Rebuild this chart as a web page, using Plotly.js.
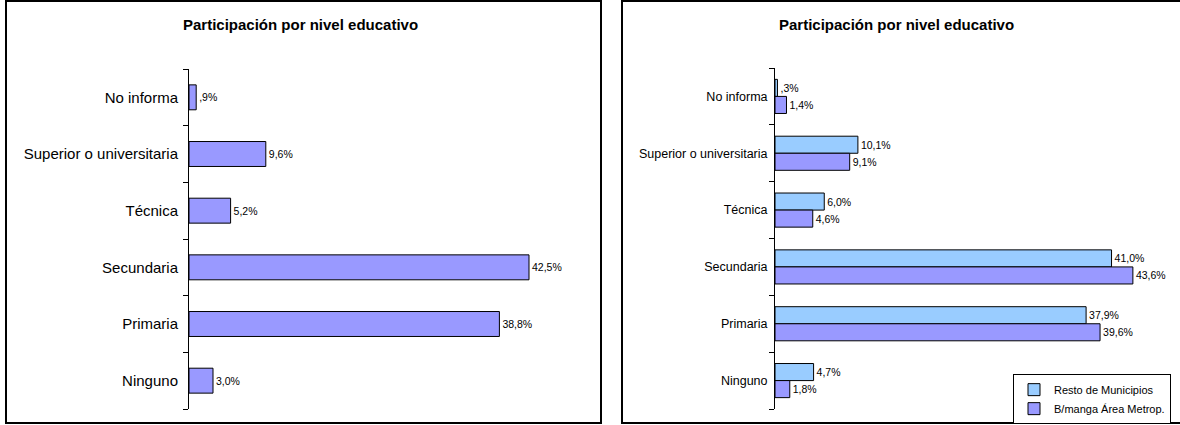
<!DOCTYPE html>
<html><head><meta charset="utf-8">
<script src="https://cdn.plot.ly/plotly-3.0.1.min.js"></script>
<style>html,body{margin:0;padding:0;background:#fff}#chart{width:1180px;height:425px}</style>
</head><body><div id="chart"></div>
<script>
const categories = ['Ninguno', 'Primaria', 'Secundaria', 'Técnica', 'Superior o universitaria', 'No informa'];
const totalValues = [3.0, 38.8, 42.5, 5.2, 9.6, 0.9];
const restoValues = [4.7, 37.9, 41.0, 6.0, 10.1, 0.3];
const bmangaValues = [1.8, 39.6, 43.6, 4.6, 9.1, 1.4];
const seriesNames = ['Resto de Municipios', 'B/manga Área Metrop.'];
const chartTitle = 'Participación por nivel educativo';

function fmt(v) {
  let s = v.toFixed(1).replace('.', ',');
  if (s.startsWith('0,')) s = s.slice(1);
  return s + '%';
}

const FONT = 'Liberation Sans, Arial, sans-serif';
const W = 1180, H = 425;
const px = v => v / W;
const py = v => 1 - v / H;

const data = [
  {
    type: 'bar', orientation: 'h', name: 'Total',
    x: totalValues, y: categories, xaxis: 'x', yaxis: 'y',
    width: 0.44, offset: -0.22,
    marker: {color: '#9999FF', line: {color: '#000', width: 1}},
    text: totalValues.map(fmt), textposition: 'outside', constraintext: 'none',
    textfont: {size: 10.5, color: '#000', family: FONT},
    cliponaxis: false, showlegend: false, hoverinfo: 'x+y'
  },
  {
    type: 'bar', orientation: 'h', name: seriesNames[0],
    x: restoValues, y: categories, xaxis: 'x2', yaxis: 'y2',
    width: 0.3, offset: 0,
    marker: {color: '#99CCFF', line: {color: '#000', width: 1}},
    text: restoValues.map(fmt), textposition: 'outside', constraintext: 'none',
    textfont: {size: 10.5, color: '#000', family: FONT},
    cliponaxis: false, hoverinfo: 'x+y+name'
  },
  {
    type: 'bar', orientation: 'h', name: seriesNames[1],
    x: bmangaValues, y: categories, xaxis: 'x2', yaxis: 'y2',
    width: 0.3, offset: -0.3,
    marker: {color: '#9999FF', line: {color: '#000', width: 1}},
    text: bmangaValues.map(fmt), textposition: 'outside', constraintext: 'none',
    textfont: {size: 10.5, color: '#000', family: FONT},
    cliponaxis: false, hoverinfo: 'x+y+name'
  }
];

function yax(domain, anchor, size, standoff) {
  return {
    domain: domain, anchor: anchor, type: 'category',
    categoryorder: 'array', categoryarray: categories, range: [-0.5, 5.5],
    showline: true, linecolor: '#000', linewidth: 1,
    ticks: 'outside', ticklen: 5, tickwidth: 1, tickcolor: '#000', tickson: 'boundaries',
    ticklabelstandoff: standoff,
    tickfont: {size: size, color: '#000', family: FONT},
    showgrid: false, zeroline: false, fixedrange: true
  };
}
function xax(domain, anchor, range) {
  return {
    domain: domain, anchor: anchor, range: range,
    showline: false, showgrid: false, zeroline: false, showticklabels: false, ticks: '',
    fixedrange: true
  };
}

const layout = {
  width: W, height: H,
  margin: {l: 0, r: 0, t: 0, b: 0},
  paper_bgcolor: '#fff', plot_bgcolor: 'rgba(0,0,0,0)',
  font: {family: FONT, color: '#000'},
  barmode: 'overlay',
  xaxis: xax([px(189), px(589)], 'y', [0, 50]),
  yaxis: yax([1 - 409 / H, 1 - 69 / H], 'x', 15, 7),
  xaxis2: xax([px(775), px(1169)], 'y2', [0, 48]),
  yaxis2: yax([1 - 409 / H, 1 - 68 / H], 'x2', 12.5, 4),
  showlegend: true,
  legend: {
    x: px(1013), y: 0.002, xanchor: 'left', yanchor: 'bottom',
    bgcolor: '#fff', bordercolor: '#000', borderwidth: 1,
    font: {size: 11, color: '#000', family: FONT},
    itemwidth: 30
  },
  shapes: [
    {type: 'rect', xref: 'paper', yref: 'paper', x0: px(6), x1: px(601), y0: py(423), y1: py(1),
     line: {color: '#000', width: 2}, fillcolor: 'rgba(0,0,0,0)', layer: 'below'},
    {type: 'rect', xref: 'paper', yref: 'paper', x0: px(622), x1: px(1184), y0: py(423), y1: py(1),
     line: {color: '#000', width: 2}, fillcolor: 'rgba(0,0,0,0)', layer: 'below'}
  ],
  annotations: [
    {text: '<b>' + chartTitle + '</b>', xref: 'paper', yref: 'paper', x: px(300), y: py(24),
     xanchor: 'center', yanchor: 'middle', showarrow: false, font: {size: 15, color: '#000', family: FONT}},
    {text: '<b>' + chartTitle + '</b>', xref: 'paper', yref: 'paper', x: px(897), y: py(24),
     xanchor: 'center', yanchor: 'middle', showarrow: false, font: {size: 15, color: '#000', family: FONT}}
  ]
};

Plotly.newPlot('chart', data, layout, {displayModeBar: false, staticPlot: true});
</script>
</body></html>
